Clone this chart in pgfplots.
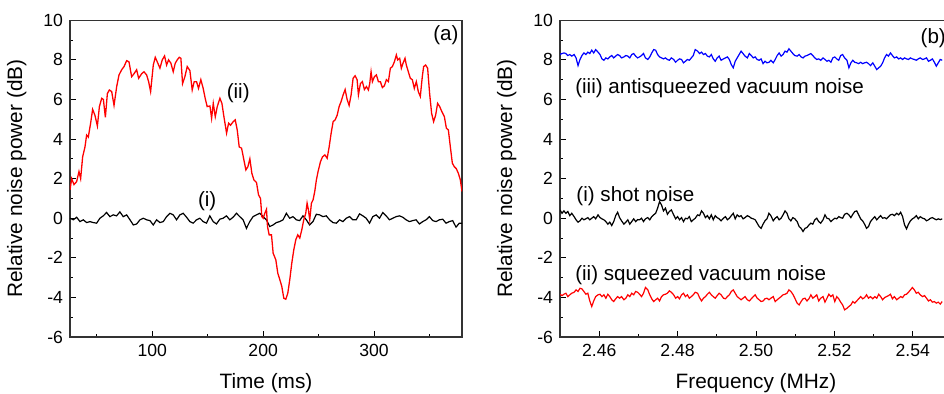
\documentclass[border=0pt]{standalone}
\usepackage{fontspec}
\setmainfont{Liberation Sans}
\usepackage{pgfplots}
\usepackage{pgfplotstable}
\pgfplotsset{compat=1.18}

\pgfplotstableread{
x blue black red
2.4500 8.27 0.42 -3.84
2.4505 8.32 0.25 -3.91
2.4510 8.35 0.37 -3.84
2.4515 8.32 0.25 -3.79
2.4520 8.22 0.34 -3.96
2.4525 8.27 0.13 -3.87
2.4530 8.19 0.25 -3.79
2.4536 8.27 0.08 -3.74
2.4541 8.10 -0.08 -3.62
2.4546 7.71 -0.20 -3.70
2.4551 8.02 -0.13 -3.54
2.4556 8.22 0.00 -3.57
2.4561 8.35 -0.08 -3.70
2.4566 8.27 -0.03 -3.84
2.4571 8.39 0.03 -3.79
2.4576 8.32 -0.08 -4.18
2.4581 8.49 0.00 -4.46
2.4586 8.35 0.08 -4.18
2.4591 8.52 -0.03 -3.96
2.4597 8.39 0.17 -3.87
2.4602 8.27 0.03 -3.84
2.4607 8.05 -0.03 -3.96
2.4612 7.98 -0.08 -3.87
2.4617 8.10 -0.17 -4.04
2.4622 8.05 -0.30 -3.84
2.4627 8.15 -0.20 -3.96
2.4632 8.22 -0.37 -4.12
2.4637 8.10 -0.17 -4.21
2.4642 8.19 0.13 -4.07
2.4647 8.27 0.30 -3.96
2.4652 8.22 0.03 -4.04
2.4657 8.10 -0.13 -3.96
2.4663 8.15 -0.30 -4.12
2.4668 8.22 -0.20 -4.04
2.4673 8.19 -0.08 -3.87
2.4678 8.10 -0.30 -3.96
2.4683 8.27 -0.17 -3.79
2.4688 8.32 -0.03 -3.87
2.4693 8.19 -0.17 -3.70
2.4698 8.10 -0.07 -3.74
2.4703 8.15 -0.08 -3.84
2.4708 8.22 0.00 -3.96
2.4713 8.32 -0.17 -3.79
2.4718 8.10 -0.03 -3.50
2.4724 8.02 0.03 -3.62
2.4729 8.15 -0.08 -3.87
2.4734 8.35 0.08 -4.07
2.4739 8.52 0.17 -4.21
2.4744 8.49 0.25 -4.12
2.4749 8.27 0.51 -4.04
2.4754 8.15 0.84 -4.18
2.4759 8.10 0.67 -3.96
2.4764 8.05 0.37 -3.87
2.4769 8.10 0.51 -3.84
2.4774 8.02 0.20 -3.79
2.4779 7.98 0.34 -3.67
2.4784 8.10 0.42 -3.74
2.4790 8.02 0.17 -3.87
2.4795 7.88 -0.03 -4.04
2.4800 7.98 0.08 -3.96
2.4805 8.05 -0.08 -4.07
2.4810 8.02 0.03 -3.87
2.4815 7.85 -0.17 -3.79
2.4820 7.93 0.00 -3.96
2.4825 8.02 -0.03 -3.87
2.4830 7.98 0.08 -4.04
2.4835 8.10 -0.17 -3.96
2.4840 8.22 -0.08 -3.87
2.4845 8.52 0.00 -3.74
2.4851 8.44 0.17 -3.79
2.4856 8.32 0.13 -4.01
2.4861 8.39 0.37 -4.18
2.4866 8.27 0.25 -4.04
2.4871 8.32 0.03 -3.96
2.4876 8.19 0.13 -3.84
2.4881 8.15 -0.03 -3.74
2.4886 8.27 0.17 -3.87
2.4891 8.05 -0.08 -3.96
2.4896 7.93 0.13 -4.04
2.4901 8.10 0.03 -3.91
2.4906 8.19 -0.03 -3.79
2.4911 7.98 -0.13 -3.87
2.4917 8.05 0.00 -4.04
2.4922 8.10 0.08 -4.07
2.4927 8.15 -0.08 -3.96
2.4932 8.02 0.00 -3.87
2.4937 7.76 0.13 -3.70
2.4942 7.60 0.25 -3.62
2.4947 7.93 -0.03 -3.79
2.4952 8.10 0.17 -3.96
2.4957 8.27 0.08 -4.04
2.4962 8.44 0.13 -4.12
2.4967 8.32 -0.03 -4.04
2.4972 8.19 0.03 -3.96
2.4978 8.10 0.13 -4.12
2.4983 8.32 0.08 -4.18
2.4988 8.22 0.00 -4.07
2.4993 8.10 -0.03 -3.96
2.4998 8.15 -0.08 -3.87
2.5003 8.02 -0.25 -4.04
2.5008 7.98 -0.42 -4.12
2.5013 8.05 -0.51 -4.21
2.5018 7.81 -0.30 -4.18
2.5023 7.93 -0.13 -4.07
2.5028 7.85 -0.03 -4.04
2.5033 7.88 0.25 -4.12
2.5038 7.98 0.13 -4.04
2.5044 7.85 -0.13 -3.96
2.5049 8.02 0.00 -4.21
2.5054 8.22 0.08 -4.12
2.5059 8.35 -0.08 -4.04
2.5064 8.19 0.00 -3.96
2.5069 8.27 0.17 -3.87
2.5074 8.44 0.37 -3.84
2.5079 8.39 0.25 -3.79
2.5084 8.56 -0.03 -3.62
2.5089 8.44 -0.13 -3.70
2.5094 8.32 0.03 -3.84
2.5099 8.22 -0.03 -4.04
2.5105 8.19 -0.17 -4.29
2.5110 8.27 -0.42 -4.38
2.5115 8.15 -0.51 -4.21
2.5120 8.10 -0.67 -4.07
2.5125 8.19 -0.51 -4.04
2.5130 8.22 -0.47 -4.18
2.5135 8.27 -0.34 -4.07
2.5140 8.32 -0.25 -3.87
2.5145 8.22 -0.30 -4.04
2.5150 8.10 -0.08 -3.96
2.5155 8.02 0.00 -3.87
2.5160 8.05 -0.17 -4.18
2.5165 7.98 -0.25 -4.04
2.5171 8.10 -0.08 -3.96
2.5176 8.02 0.17 -4.24
2.5181 7.93 0.00 -4.04
2.5186 7.98 -0.03 -3.84
2.5191 7.88 -0.17 -3.96
2.5196 8.10 -0.08 -3.87
2.5201 8.15 0.00 -4.21
2.5206 8.05 -0.03 -3.96
2.5211 7.98 0.08 -4.07
2.5216 8.22 0.03 -4.24
2.5221 8.27 0.00 -4.38
2.5226 8.10 0.20 -4.63
2.5232 7.98 0.25 -4.55
2.5237 7.60 0.17 -4.46
2.5242 7.85 0.03 -4.38
2.5247 7.98 0.20 -4.21
2.5252 7.88 0.34 -4.29
2.5257 7.85 0.37 -4.18
2.5262 7.81 0.17 -4.07
2.5267 7.88 -0.03 -3.96
2.5272 7.81 -0.13 -4.07
2.5277 7.85 -0.30 -4.01
2.5282 7.88 -0.51 -3.87
2.5287 7.81 -0.42 -4.04
2.5292 7.71 -0.17 -3.96
2.5298 7.85 -0.03 -4.07
2.5303 7.68 0.08 -3.96
2.5308 7.51 -0.08 -4.04
2.5313 7.60 0.03 -3.84
2.5318 7.68 0.13 -3.96
2.5323 7.85 0.00 -4.12
2.5328 8.10 0.03 -4.01
2.5333 8.27 -0.03 -3.96
2.5338 8.19 0.08 -3.91
2.5343 8.35 0.17 -3.84
2.5348 8.22 0.20 -4.07
2.5353 8.10 0.13 -3.96
2.5359 8.15 0.25 -4.12
2.5364 8.05 0.17 -4.04
2.5369 8.10 0.30 -3.96
2.5374 8.02 0.08 -4.01
2.5379 8.10 -0.34 -3.87
2.5384 8.05 -0.54 -3.84
2.5389 8.02 -0.30 -3.74
2.5394 8.10 -0.13 -3.62
2.5399 8.05 -0.03 -3.50
2.5404 8.02 0.03 -3.62
2.5409 7.98 0.13 -3.79
2.5414 8.05 -0.03 -3.74
2.5419 8.10 0.08 -3.87
2.5425 8.02 0.00 -3.96
2.5430 8.05 -0.03 -3.91
2.5435 8.10 -0.13 -4.04
2.5440 7.93 -0.08 -4.18
2.5445 7.98 0.00 -4.12
2.5450 8.05 0.03 -4.24
2.5455 7.88 -0.03 -4.21
2.5460 7.68 -0.08 -4.29
2.5465 7.85 -0.03 -4.24
2.5470 8.02 -0.07 -4.34
2.5475 7.98 -0.03 -4.21
}\tableb

\tikzset{note/.style={font=\fontsize{10.3}{12}\selectfont, inner sep=0pt}}

\pgfplotsset{
  panel/.style={
    scale only axis, width=196pt, height=158.35pt,
    ymin=-6, ymax=10, ytick={-6,-4,-2,0,2,4,6,8,10}, minor y tick num=1,
    tick align=inside, tick pos=left,
    major tick length=3pt, minor tick length=1.6pt,
    every tick/.style={black, line width=0.5pt},
    axis line style={line width=0.6pt, black!80},
    /pgf/number format/assume math mode=true,
    ticklabel style={font=\fontsize{8.8}{10}\selectfont},
    label style={font=\fontsize{10.4}{12}\selectfont},
    ylabel={Relative noise power (dB)},
    ylabel style={at={(axis description cs:0,0.5)}, anchor=center, yshift=26.6pt},
    xlabel style={at={(axis description cs:0.5,0)}, anchor=center, yshift=-23pt},
    yticklabel style={/pgf/number format/fixed},
  },
}

\begin{document}
\begin{tikzpicture}
\useasboundingbox (0,0) rectangle (472pt,197pt);
% ---------- (a) ----------
\begin{axis}[panel, at={(35pt,28.5pt)}, anchor=south west,
  xmin=25.8, xmax=379.3,
  xtick={100,200,300}, minor xtick={50,150,250,350},
  xlabel={Time (ms)}]
\addplot[black, line width=0.6pt] coordinates {
(25.8,0)(28.8,-0.08)(31.8,0.05)(34.8,-0.17)(37.8,-0.08)(40.8,-0.22)(43.8,-0.17)(46.8,-0.22)(49.8,-0.25)(52.8,0)
(55.8,0.12)(58.8,0.29)(61.8,0.08)(64.8,0.17)(67.8,0.12)(70.8,0.32)(73.8,0.08)(76.9,0.17)(79.9,-0.08)(82.9,-0.34)
(85.9,-0.29)(88.9,-0.08)(91.9,0)(94.9,-0.08)(97.9,-0.12)(100.9,-0.34)(103.9,-0.08)(106.9,-0.22)(109.9,-0.17)(112.9,0.08)
(115.9,0.25)(118.9,0.17)(121.9,-0.08)(124.9,0.17)(127.9,0.25)(130.9,0.05)(133.9,-0.17)(136.9,-0.25)(139.9,-0.08)(142.9,0)
(145.9,-0.17)(148.9,-0.25)(151.9,0.12)(154.9,-0.17)(157.9,-0.29)(160.9,-0.05)(163.9,0)(166.9,0.12)(169.9,-0.08)(172.9,0.05)
(175.9,0.25)(178.9,0.08)(181.9,-0.08)(184.9,-0.51)(187.9,-0.17)(190.9,0.08)(193.9,0.17)(196.9,0.25)(199.9,0.08)(202.9,-0.08)
(205.9,-0.42)(208.9,-0.34)(211.9,-0.22)(214.9,-0.17)(217.9,-0.08)(220.9,0.25)(223.9,0)(226.9,0.08)(229.9,-0.08)(232.9,-0.12)
(235.9,0.12)(238.9,-0.08)(241.9,-0.34)(244.9,-0.17)(247.9,0.20)(250.9,0.17)(253.9,0.08)(256.9,0.12)(259.9,-0.08)(262.9,-0.22)
(265.9,-0.25)(268.9,-0.08)(271.9,-0.17)(274.9,0)(277.9,0.08)(280.9,-0.08)(283.9,-0.08)(286.9,0.22)(289.9,0.12)(292.9,0)
(295.9,-0.25)(298.9,0.08)(301.9,0.17)(304.9,0)(307.9,0.29)(310.9,0.12)(313.9,-0.08)(316.9,0)(319.9,0.08)(322.9,0.12)
(325.9,0.05)(328.9,-0.08)(331.9,-0.17)(334.9,-0.12)(337.9,-0.08)(340.9,-0.29)(343.9,-0.17)(346.9,-0.08)(349.9,0.08)(352.9,-0.12)
(355.9,-0.17)(358.9,-0.08)(361.9,-0.05)(364.9,-0.25)(367.9,-0.17)(370.9,-0.12)(373.9,-0.45)(376.9,-0.25)(379.3,-0.25)
};
\addplot[red, line width=0.65pt] coordinates {
(25.8,1.43)(27.3,2.0)(29.4,1.7)(31.8,1.85)(33.9,2.36)(35.4,2.0)(37.2,3.1)(39.3,3.6)(40.8,4.2)(42.3,4.1)
(44.4,4.8)(46.2,5.5)(48.3,5.2)(50.5,4.66)(52.3,5.64)(54.4,6.06)(55.9,6.0)(57.7,5.1)(59.5,6.3)(61.3,6.48)
(63.4,6.4)(65.5,5.7)(67.9,6.65)(70.0,7.24)(72.4,7.5)(74.5,7.66)(76.9,7.96)(79.0,7.9)(81.4,7.15)(83.5,7.3)
(85.9,7.5)(87.7,7.07)(90.4,7.3)(92.5,7.4)(94.9,7.24)(96.7,6.9)(98.5,6.4)(100.9,7.74)(102.7,8.13)(104.5,7.9)
(106.9,7.58)(109.0,8.0)(111.1,8.2)(112.9,7.74)(114.7,8.0)(116.8,7.83)(118.9,7.4)(120.7,7.83)(122.5,8.0)(124.3,8.13)
(125.8,8.08)(127.3,6.8)(129.4,7.15)(131.5,7.66)(133.9,7.46)(136.0,6.48)(137.8,6.9)(139.9,6.9)(141.7,6.56)(143.8,7.0)
(145.9,6.56)(147.7,6.06)(149.5,5.64)(152.0,5.67)(153.5,5.05)(155.0,5.8)(156.8,5.13)(158.6,5.64)(161.0,6.06)(162.8,5.8)
(164.6,5.13)(167.0,4.3)(168.8,4.8)(170.6,4.7)(173.0,4.88)(174.8,4.97)(176.6,4.46)(178.4,3.6)(180.5,3.54)(182.6,2.95)
(184.4,2.44)(186.2,2.6)(188.0,3.0)(189.8,2.27)(191.6,1.94)(194.0,1.8)(195.8,1.18)(197.6,1.0)(198.8,0.08)(200.0,0.0)
(201.5,0.25)(203.0,0.45)(203.9,-0.42)(205.4,-0.84)(207.5,-0.84)(209.0,-1.77)(211.4,-2.1)(213.2,-2.78)(215.0,-3.1)(216.8,-3.45)
(218.6,-4.04)(220.4,-4.09)(222.2,-3.79)(224.0,-3.1)(225.8,-2.27)(227.6,-1.6)(229.4,-1.09)(231.2,-0.84)(233.0,-1.0)(234.8,-0.59)
(236.6,-0.08)(238.4,0.25)(239.6,0.76)(240.8,0.42)(242.0,-0.08)(243.5,0.76)(245.0,0.93)(246.5,1.35)(248.0,1.94)(249.5,2.36)
(251.7,2.86)(253.5,3.1)(255.6,3.2)(257.7,3.03)(259.5,3.6)(261.3,4.3)(263.1,4.88)(264.9,4.97)(266.7,5.2)(268.5,5.64)
(270.3,5.9)(272.1,6.23)(273.9,6.5)(275.7,6.0)(277.5,5.7)(279.3,6.23)(281.1,7.07)(282.9,7.2)(284.7,7.0)(285.9,6.23)
(287.7,6.8)(289.5,6.9)(291.3,6.5)(293.1,6.65)(294.9,6.48)(296.1,6.8)(297.3,7.4)(298.5,6.9)(300.3,7.15)(302.1,7.24)
(303.9,6.9)(305.7,6.9)(307.5,6.6)(309.3,6.69)(311.1,7.0)(312.9,6.9)(314.7,7.58)(316.5,7.66)(318.3,7.9)(320.1,8.25)
(321.3,8.0)(323.1,8.08)(324.6,7.58)(326.1,7.83)(327.9,8.08)(329.1,7.74)(330.9,7.4)(332.7,7.07)(334.5,7.0)(336.3,6.56)
(338.1,6.9)(339.9,6.4)(341.7,6.15)(343.5,7.15)(344.7,7.66)(346.5,7.74)(348.3,7.58)(350.1,6.3)(351.9,5.3)(353.7,4.88)
(355.5,5.2)(357.3,5.8)(359.2,5.64)(361.0,5.4)(363.4,5.13)(365.2,4.55)(367.0,4.46)(368.8,3.6)(370.6,2.78)(372.4,2.6)
(374.2,2.5)(376.0,2.27)(377.8,1.94)(379.3,1.35)
};
\node[note] at (axis cs:177.5,6.31) {(ii)};
\node[note] at (axis cs:149.5,0.84) {(i)};
\node[note, anchor=east] at (axis cs:376.5,9.25) {(a)};
\end{axis}
% ---------- (b) ----------
\begin{axis}[panel, at={(280pt,28.5pt)}, anchor=south west,
  xmin=2.45, xmax=2.55, scaled x ticks=false,
  xtick={2.46,2.48,2.50,2.52,2.54}, minor xtick={2.47,2.49,2.51,2.53},
  xticklabel style={/pgf/number format/.cd, fixed, fixed zerofill, precision=2},
  xlabel={Frequency (MHz)}]
\addplot[blue, line width=0.6pt] table[x=x, y=blue] {\tableb};
\addplot[black, line width=0.6pt] table[x=x, y=black] {\tableb};
\addplot[red, line width=0.6pt] table[x=x, y=red] {\tableb};
\node[note, anchor=west] at (axis cs:2.4538,6.58) {(iii) antisqueezed vacuum noise};
\node[note, anchor=west] at (axis cs:2.4541,1.10) {(i) shot noise};
\node[note, anchor=west] at (axis cs:2.4538,-2.87) {(ii) squeezed vacuum noise};
\node[note, anchor=west] at (axis cs:2.5419,9.1) {(b)};
\end{axis}
\end{tikzpicture}
\end{document}
